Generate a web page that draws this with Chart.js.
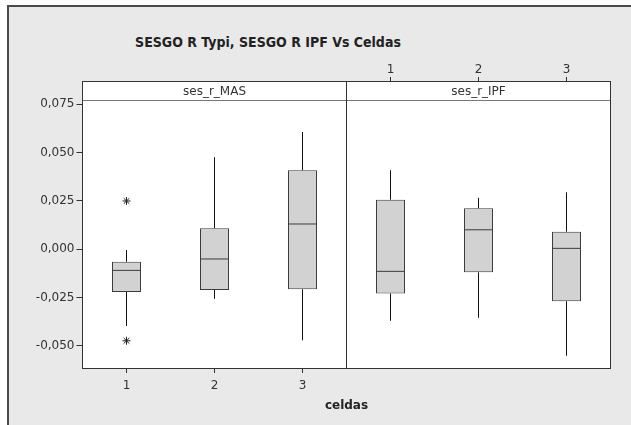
<!DOCTYPE html>
<html lang="es">
<head>
<meta charset="UTF-8" />
<title>SESGO R Typi, SESGO R IPF Vs Celdas</title>
<script src="https://cdn.jsdelivr.net/npm/chart.js@4/dist/chart.umd.min.js"></script>
<style>
  body { margin: 0; background: #fff; width: 631px; height: 425px; overflow: hidden; position: relative; }
  #frame {
    position: absolute; left: 7px; top: 5px; width: 630px; height: 430px;
    background: #e9e9e9; border-left: 2px solid #4a4a4a; border-top: 2px solid #4a4a4a;
  }
  #title {
    position: absolute; left: 68px; width: 400px; top: 34px; text-align: center;
    font: bold 14px 'DejaVu Sans Condensed', 'DejaVu Sans', sans-serif; color: #222;
  }
  canvas { position: absolute; left: 0; top: 0; }
</style>
</head>
<body>
<div id="frame"></div>
<div id="title">SESGO R Typi, SESGO R IPF Vs Celdas</div>
<canvas id="c" width="631" height="425"></canvas>
<script>
// celdas per panel
const categories = ['1', '2', '3'];
const panels = ['ses_r_MAS', 'ses_r_IPF'];
const yTicks = [-0.05, -0.025, 0, 0.025, 0.05, 0.075];

// ses_r_MAS boxes
const masQ1 = [-0.0221, -0.0211, -0.0206];
const masMed = [-0.0109, -0.0050, 0.0131];
const masQ3 = [-0.0064, 0.0109, 0.0409];
const masLow = [-0.0397, -0.0256, -0.0470];
const masHigh = [-0.0004, 0.0476, 0.0607];

// ses_r_IPF boxes
const ipfQ1 = [-0.0228, -0.0119, -0.0268];
const ipfMed = [-0.0114, 0.0101, 0.0005];
const ipfQ3 = [0.0257, 0.0212, 0.0091];
const ipfLow = [-0.0370, -0.0354, -0.0551];
const ipfHigh = [0.0409, 0.0267, 0.0295];

// outliers (category index, value)
const outlierCat = [0, 0];
const outlierVal = [0.0250, -0.0473];

const labels = panels.flatMap(p => categories.map(c => p + ' ' + c));
const q1 = masQ1.concat(ipfQ1);
const med = masMed.concat(ipfMed);
const q3 = masQ3.concat(ipfQ3);
const lo = masLow.concat(ipfLow);
const hi = masHigh.concat(ipfHigh);

const pairs = (a, b) => a.map((v, i) => [v, b[i]]);
const px = v => Math.floor(v) + 0.5;

const panelFrame = {
  id: 'panelFrame',
  beforeDatasetsDraw(chart) {
    const { ctx, chartArea: a } = chart;
    ctx.save();
    ctx.fillStyle = '#fff';
    ctx.fillRect(a.left, a.top, a.right - a.left, a.bottom - a.top);
    ctx.restore();
  },
  afterDraw(chart) {
    const { ctx, chartArea: a } = chart;
    const mid = px((a.left + a.right) / 2);
    const l = px(a.left), r = px(a.right), t = px(a.top), b = px(a.bottom);
    ctx.save();
    ctx.lineWidth = 1;
    ctx.strokeStyle = '#777';
    ctx.beginPath();
    ctx.moveTo(l, 100.5);
    ctx.lineTo(r, 100.5);
    ctx.stroke();
    ctx.strokeStyle = '#333';
    ctx.strokeRect(l, t, r - l, b - t);
    ctx.beginPath();
    ctx.moveTo(mid, t);
    ctx.lineTo(mid, b);
    ctx.stroke();
    ctx.fillStyle = '#333';
    ctx.font = '12px "DejaVu Sans", sans-serif';
    ctx.textAlign = 'center';
    ctx.textBaseline = 'middle';
    ctx.fillText(panels[0], (l + mid) / 2, 92);
    ctx.fillText(panels[1], (mid + r) / 2, 92);
    ctx.restore();
  }
};

const tickFont = { family: 'DejaVu Sans', size: 12 };

new Chart(document.getElementById('c'), {
  data: {
    labels: labels,
    datasets: [
      {
        type: 'line', data: med, showLine: false, order: 0,
        pointStyle: 'line', pointRadius: 14.5, pointBorderWidth: 1,
        pointBorderColor: '#3c3c3c', pointHoverRadius: 14.5
      },
      {
        type: 'line', data: outlierCat.map((c, i) => ({ x: labels[c], y: outlierVal[i] })),
        showLine: false, order: 0, pointStyle: 'star', pointRadius: 4,
        pointBorderWidth: 1, pointBorderColor: '#222'
      },
      {
        type: 'bar', data: pairs(q1, q3), grouped: false, order: 1,
        backgroundColor: '#d2d2d2', borderColor: '#3c3c3c', borderWidth: 1,
        borderSkipped: false, barThickness: 29, inflateAmount: 0
      },
      {
        type: 'bar', data: pairs(lo, q1), grouped: false, order: 2,
        backgroundColor: '#111', barThickness: 1, inflateAmount: 0
      },
      {
        type: 'bar', data: pairs(q3, hi), grouped: false, order: 2,
        backgroundColor: '#111', barThickness: 1, inflateAmount: 0
      }
    ]
  },
  options: {
    responsive: false,
    animation: false,
    layout: { padding: { left: 7.5, right: 20.5, top: 61, bottom: 7 } },
    plugins: { legend: { display: false }, tooltip: { enabled: false } },
    scales: {
      x: {
        type: 'category', position: 'bottom', offset: true,
        afterFit: s => { s.height = 50; },
        grid: {
          offset: false, drawOnChartArea: false, tickLength: 5,
          color: c => (c.index < 3 ? '#333' : 'rgba(0,0,0,0)')
        },
        border: { display: false },
        ticks: {
          font: tickFont, color: '#333', padding: 6, maxRotation: 0, autoSkip: false,
          callback: (v, i) => (i < 3 ? categories[i] : '')
        },
        title: {
          display: true, text: 'celdas', color: '#222',
          font: { family: 'DejaVu Sans', size: 12, weight: 'bold' },
          padding: { top: 0, bottom: 5 }
        }
      },
      x2: {
        type: 'category', position: 'top', offset: true,
        afterFit: s => { s.height = 20; },
        grid: {
          offset: false, drawOnChartArea: false, tickLength: 4,
          color: c => (c.index >= 3 ? '#333' : 'rgba(0,0,0,0)')
        },
        border: { display: false },
        ticks: {
          font: tickFont, color: '#333', padding: 0, maxRotation: 0, autoSkip: false,
          callback: (v, i) => (i >= 3 ? categories[i - 3] : '')
        }
      },
      y: {
        type: 'linear', min: -0.06139, max: 0.08706,
        afterFit: s => { s.width = 75; },
        afterBuildTicks: s => { s.ticks = yTicks.map(v => ({ value: v })); },
        grid: { drawOnChartArea: false, tickLength: 6, color: '#333' },
        border: { display: false },
        ticks: {
          font: tickFont, color: '#333', padding: 2,
          callback: v => v.toFixed(3).replace('.', ',')
        }
      }
    }
  },
  plugins: [panelFrame]
});
</script>
</body>
</html>
